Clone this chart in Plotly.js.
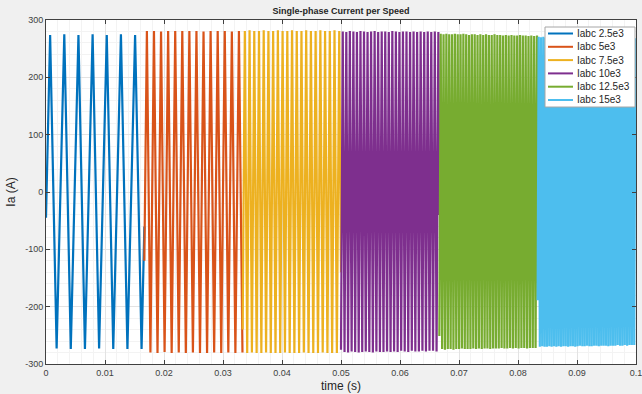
<!DOCTYPE html>
<html>
<head>
<meta charset="utf-8">
<script src="https://cdn.plot.ly/plotly-3.0.1.min.js"></script>
<style>html,body{margin:0;padding:0;background:#f0f0f0;}#chart{width:642px;height:394px;}</style>
</head>
<body>
<div id="chart"></div>
<script>
// Series names and colours
const seriesNames = ["Iabc 2.5e3", "Iabc 5e3", "Iabc 7.5e3", "Iabc 10e3", "Iabc 12.5e3", "Iabc 15e3"];
const seriesColors = ["#0072BD", "#D95319", "#EDB120", "#7E2F8E", "#77AC30", "#4DBEEE"];

// Waveform extrema (time in s, current in A)
const blueT = [0, 0.0007, 0.0018, 0.0031, 0.0042, 0.0055, 0.0066, 0.0079, 0.0090, 0.0103, 0.0114, 0.0127, 0.0138, 0.0151, 0.0162, 0.01667];
const blueY = [-45, 274, -273, 275, -274, 274, -274, 275, -273, 274, -274, 275, -274, 274, -274, -60];

const orangeT = [0.01667, 0.0171, 0.0177, 0.0183, 0.0189, 0.0195, 0.0201, 0.0207, 0.0213, 0.0219, 0.0225, 0.0231, 0.0237, 0.0243, 0.0249, 0.0255, 0.0261, 0.0267, 0.0273, 0.0279, 0.0285, 0.0291, 0.0297, 0.0303, 0.0309, 0.0315, 0.0321, 0.0327, 0.0333];
const orangeY = [-120, 281, -280, 281, -281, 280, -279, 281, -281, 281, -280, 281, -281, 281, -280, 281, -281, 280, -281, 281, -280, 281, -281, 281, -280, 280, -281, 281, -280];

const yellowT = [0.03333, 0.0337, 0.0341, 0.0345, 0.0349, 0.0353, 0.0357, 0.0361, 0.0365, 0.0369, 0.0373, 0.0377, 0.0381, 0.0385, 0.0389, 0.0393, 0.0397, 0.0401, 0.0405, 0.0409, 0.0413, 0.0417, 0.0421, 0.0425, 0.0429, 0.0433, 0.0437, 0.0441, 0.0445, 0.0449, 0.0453, 0.0457, 0.0461, 0.0465, 0.0469, 0.0473, 0.0477, 0.0481, 0.0485, 0.0489, 0.0493, 0.0497, 0.05];
const yellowY = [-240, 281, -281, 282, -280, 281, -281, 281, -281, 282, -280, 281, -281, 281, -281, 282, -281, 281, -280, 281, -281, 282, -281, 281, -281, 281, -280, 282, -281, 281, -281, 281, -281, 282, -280, 281, -281, 281, -281, 282, -281, 281, -140];

const purpleT = [0.05, 0.0503, 0.0506, 0.0509, 0.0512, 0.0515, 0.0518, 0.0521, 0.0524, 0.0527, 0.0530, 0.0533, 0.0536, 0.0539, 0.0542, 0.0545, 0.0548, 0.0551, 0.0554, 0.0557, 0.0560, 0.0563, 0.0566, 0.0569, 0.0572, 0.0575, 0.0578, 0.0581, 0.0584, 0.0587, 0.0590, 0.0593, 0.0596, 0.0599, 0.0602, 0.0605, 0.0608, 0.0611, 0.0614, 0.0617, 0.0620, 0.0623, 0.0626, 0.0629, 0.0632, 0.0635, 0.0638, 0.0641, 0.0644, 0.0647, 0.0650, 0.0653, 0.0656, 0.0659, 0.0662, 0.0665, 0.06667];
const purpleY = [-275, 280, -279, 279, -280, 281, -278, 280, -279, 279, -280, 281, -279, 280, -278, 279, -279, 280, -280, 281, -278, 279, -279, 280, -279, 280, -278, 279, -279, 281, -278, 280, -279, 279, -277, 280, -278, 280, -279, 279, -277, 280, -278, 279, -278, 280, -277, 279, -278, 280, -277, 279, -277, 280, -278, 279, -40];

const greenT = [0.06667, 0.06690, 0.06714, 0.06738, 0.06762, 0.06786, 0.06810, 0.06834, 0.06858, 0.06882, 0.06906, 0.06930, 0.06954, 0.06978, 0.07002, 0.07026, 0.07050, 0.07074, 0.07098, 0.07122, 0.07146, 0.07170, 0.07194, 0.07218, 0.07242, 0.07266, 0.07290, 0.07314, 0.07338, 0.07362, 0.07386, 0.07410, 0.07434, 0.07458, 0.07482, 0.07506, 0.07530, 0.07554, 0.07578, 0.07602, 0.07626, 0.07650, 0.07674, 0.07698, 0.07722, 0.07746, 0.07770, 0.07794, 0.07818, 0.07842, 0.07866, 0.07890, 0.07914, 0.07938, 0.07962, 0.07986, 0.08010, 0.08034, 0.08058, 0.08082, 0.08106, 0.08130, 0.08154, 0.08178, 0.08202, 0.08226, 0.08250, 0.08274, 0.08298, 0.08322, 0.08333];
const greenY = [-251, 276, -274, 275, -275, 276, -274, 275, -274, 275, -275, 276, -274, 275, -274, 275, -273, 276, -274, 275, -274, 274, -274, 275, -273, 275, -274, 274, -273, 275, -274, 274, -273, 275, -273, 274, -274, 274, -273, 275, -273, 274, -273, 274, -272, 273, -273, 274, -273, 273, -272, 274, -273, 273, -272, 273, -273, 274, -272, 273, -272, 273, -273, 272, -272, 273, -272, 272, -272, 273, 23];

const lightT = [0.08333, 0.0835, 0.0837, 0.0839, 0.0841, 0.0843, 0.0845, 0.0847, 0.0849, 0.0851, 0.0853, 0.0855, 0.0857, 0.0859, 0.0861, 0.0863, 0.0865, 0.0867, 0.0869, 0.0871, 0.0873, 0.0875, 0.0877, 0.0879, 0.0881, 0.0883, 0.0885, 0.0887, 0.0889, 0.0891, 0.0893, 0.0895, 0.0897, 0.0899, 0.0901, 0.0903, 0.0905, 0.0907, 0.0909, 0.0911, 0.0913, 0.0915, 0.0917, 0.0919, 0.0921, 0.0923, 0.0925, 0.0927, 0.0929, 0.0931, 0.0933, 0.0935, 0.0937, 0.0939, 0.0941, 0.0943, 0.0945, 0.0947, 0.0949, 0.0951, 0.0953, 0.0955, 0.0957, 0.0959, 0.0961, 0.0963, 0.0965, 0.0967, 0.0969, 0.0971, 0.0973, 0.0975, 0.0977, 0.0979, 0.0981, 0.0983, 0.0985, 0.0987, 0.0989, 0.0991, 0.0993, 0.0995, 0.0997, 0.0999, 0.1];
const lightY = [-189, 271, -270, 270, -269, 271, -270, 269, -270, 271, -269, 270, -270, 271, -269, 270, -270, 269, -269, 271, -270, 270, -269, 271, -269, 270, -270, 269, -269, 271, -269, 270, -270, 270, -269, 271, -268, 269, -269, 270, -269, 271, -268, 270, -269, 269, -269, 270, -268, 271, -268, 269, -269, 270, -268, 270, -268, 269, -268, 270, -269, 269, -268, 270, -268, 268, -268, 269, -267, 270, -268, 268, -268, 269, -267, 268, -268, 269, -267, 268, -267, 269, -267, 268, 0];

// Axis ticks
const xTicks = [0, 0.01, 0.02, 0.03, 0.04, 0.05, 0.06, 0.07, 0.08, 0.09, 0.1];
const xTickText = ["0", "0.01", "0.02", "0.03", "0.04", "0.05", "0.06", "0.07", "0.08", "0.09", "0.1"];
const yTicks = [-300, -200, -100, 0, 100, 200, 300];
const yTickText = ["-300", "-200", "-100", "0", "100", "200", "300"];

const seriesT = [blueT, orangeT, yellowT, purpleT, greenT, lightT];
const seriesY = [blueY, orangeY, yellowY, purpleY, greenY, lightY];

const FONT = "Liberation Sans, Arial, Helvetica, sans-serif";
const W = 642, H = 394, L = 46, R = 6, T = 20, B = 30;
const pw = W - L - R, ph = H - T - B;
const px2x = p => (p - L) / pw;
const px2y = p => (H - B - p) / ph;

const traces = seriesNames.map((n, i) => ({
  type: "scatter", mode: "lines", name: n,
  x: seriesT[i], y: seriesY[i],
  line: {color: seriesColors[i], width: 2.2, simplify: false},
  showlegend: false, hoverinfo: "skip"
}));

// Legend drawn as box + line samples + texts (MATLAB-like compact legend)
const shapes = [{
  type: "rect", xref: "paper", yref: "paper",
  x0: px2x(545), x1: px2x(635), y0: px2y(107), y1: px2y(27),
  fillcolor: "#ffffff", line: {color: "#a6a6a6", width: 1}, layer: "above"
}];
const annotations = [];
seriesNames.forEach((n, i) => {
  const cy = 33.5 + i * 13.3;
  shapes.push({
    type: "line", xref: "paper", yref: "paper",
    x0: px2x(548), x1: px2x(573), y0: px2y(cy), y1: px2y(cy),
    line: {color: seriesColors[i], width: 2}, layer: "above"
  });
  annotations.push({
    xref: "paper", yref: "paper", x: px2x(575), y: px2y(cy),
    xanchor: "left", yanchor: "middle", showarrow: false,
    text: n, font: {family: FONT, size: 10, color: "#262626"}
  });
});

const layout = {
  width: W, height: H,
  margin: {l: L, r: R, t: T, b: B},
  paper_bgcolor: "#f0f0f0", plot_bgcolor: "#ffffff",
  font: {family: FONT, color: "#404040"},
  title: {text: "<b>Single-phase Current per Speed</b>", x: 0.5, xref: "paper",
          y: 1 - 11 / H, yanchor: "middle", font: {family: FONT, size: 9, color: "#262626"}},
  xaxis: {
    range: [0, 0.1000001], tickvals: xTicks, ticktext: xTickText,
    ticks: "inside", ticklen: 4, tickcolor: "#404040", ticklabeloverflow: "allow",
    showline: true, linecolor: "#404040", linewidth: 1, mirror: "ticks",
    showgrid: true, gridcolor: "#e3e3e3", zeroline: false,
    minor: {dtick: 0.002, showgrid: true, gridcolor: "#f3f3f3", ticks: ""},
    tickfont: {family: FONT, size: 9, color: "#404040"},
    title: {text: "time (s)", font: {family: FONT, size: 12, color: "#262626"}, standoff: 4}
  },
  yaxis: {
    range: [-300, 300], tickvals: yTicks, ticktext: yTickText,
    ticks: "inside", ticklen: 4, tickcolor: "#404040",
    showline: true, linecolor: "#404040", linewidth: 1, mirror: "ticks",
    showgrid: true, gridcolor: "#e3e3e3", zeroline: false,
    minor: {dtick: 20, showgrid: true, gridcolor: "#f3f3f3", ticks: ""},
    tickfont: {family: FONT, size: 9, color: "#404040"},
    title: {text: "Ia (A)", font: {family: FONT, size: 12, color: "#262626"}, standoff: 6}
  },
  shapes: shapes,
  annotations: annotations,
  showlegend: false
};

Plotly.newPlot("chart", traces, layout, {displayModeBar: false, staticPlot: true});
</script>
</body>
</html>
